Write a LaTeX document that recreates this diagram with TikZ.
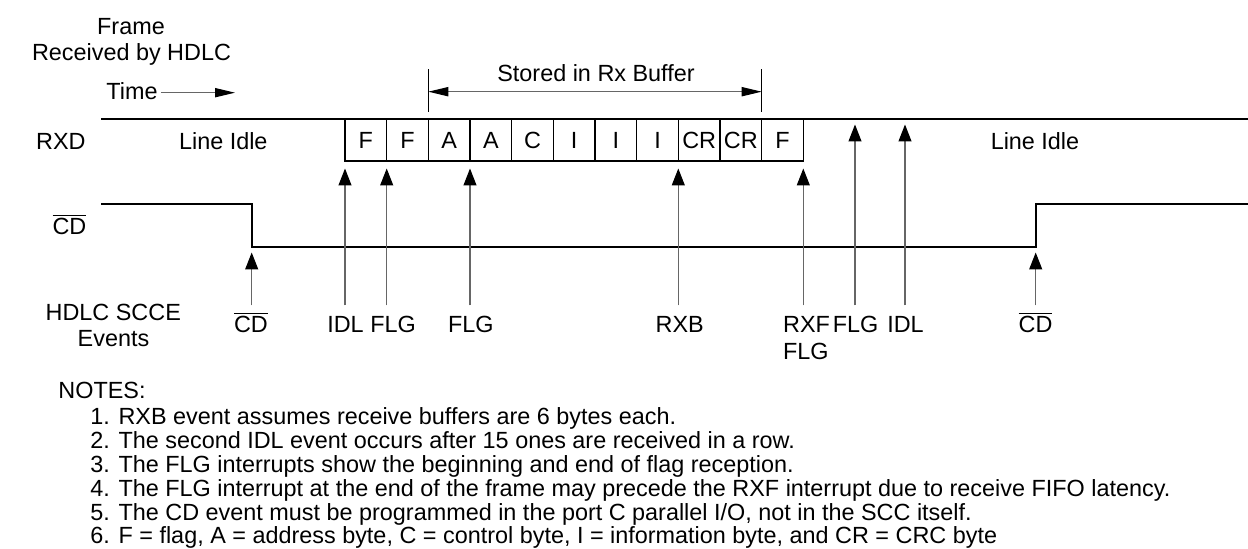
\documentclass[tikz,border=0pt]{standalone}
\usepackage{fontspec}
\setmainfont{Liberation Sans}
\usetikzlibrary{arrows.meta}
\newcommand\dgfont{\fontsize{11.7}{12}\selectfont}
\newcommand\cdbar{$\overline{\hbox{CD}}$}
\begin{document}
\begin{tikzpicture}[x=0.5pt,y=-0.5pt,
  txt/.style={inner sep=0pt,anchor=base,font=\dgfont},
  txtw/.style={txt,anchor=base west},
  txte/.style={txt,anchor=base east},
  cell/.style={draw=black,line width=0.75pt,minimum width=20.83pt,minimum height=20.85pt,inner sep=0pt,font=\dgfont,fill=white},
  sig/.style={line width=0.85pt,black},
  evarrow/.style={draw=black!60,line width=0.55pt,-{Triangle[length=8.5pt,width=6.5pt,color=black]}},
  harrow/.style={draw=black!60,line width=0.55pt,-{Triangle[length=10pt,width=4.6pt,color=black]}},
  tick/.style={draw=black,line width=0.55pt}]
\useasboundingbox (0,0) rectangle (1248,549);

% header
\node[txt] (frame) at (131,34.3) {Frame};
\node[txt] (recv) at (131.5,61) {Received by HDLC};
\node[txtw] (time) at (106,99.3) {Time};
\coordinate (timeend) at (235,92.7);
\draw[harrow] (time.east |- timeend) ++(3,0) coordinate (timestart) -- (timeend);

% stored in rx buffer
\coordinate (stl) at (428.3,91.7);
\coordinate (str) at (761.7,91.7);
\draw[tick] (428.3,69.3) coordinate (stlt) -- (428.3,111.7) coordinate (stlb);
\draw[tick] (761.7,69.3) coordinate (strt) -- (761.7,111.7) coordinate (strb);
\draw[harrow,{Triangle[length=10pt,width=4.6pt,color=black]}-{Triangle[length=10pt,width=4.6pt,color=black]}] (stl) -- (str);
\node[txt] (stored) at (596,81.7) {Stored in Rx Buffer};

% RXD line
\node[txte] (rxd) at (86,150) {RXD};
\coordinate (rxda) at (101,119.3);
\coordinate (rxdb) at (1248,119.3);
\draw[sig] (rxda) -- (rxdb);
\node[txt] (idle1) at (223.3,150) {Line Idle};
\node[txt] (idle2) at (1035,150) {Line Idle};

% cells
\foreach \lab [count=\i] in {F,F,A,A,C,I,I,I,CR,CR,F} {
  \node[cell] (c\i) at ({345+20.83+41.67*(\i-1)},140.2) {\lab};
}

% CD signal
\node[txte] (cdlab) at (86.7,235) {\cdbar};
\coordinate (cd0) at (101,204.3);
\coordinate (cd1) at (251.7,204.3);
\coordinate (cd2) at (251.7,246.7);
\coordinate (cd3) at (1035.7,246.7);
\coordinate (cd4) at (1035.7,204.3);
\coordinate (cd5) at (1248,204.3);
\draw[sig] (cd0) -- (cd1) -- (cd2) -- (cd3) -- (cd4) -- (cd5);

% events labels
\node[txt] (hdlc) at (113.3,320.7) {HDLC SCCE};
\node[txt] (events) at (113.5,346.7) {Events};

\node[txt] (e1) at (251,333) {\cdbar};
\node[txt] (e2) at (345.5,333) {IDL};
\node[txt] (e3) at (393,333) {FLG};
\node[txt] (e4) at (470.8,333) {FLG};
\node[txt] (e5) at (679.7,333) {RXB};
\node[txtw] (e6) at (782.7,333) {RXF};
\node[txtw] (e6b) at (782.7,360) {FLG};
\node[txt] (e7) at (855.5,333) {FLG};
\node[txt] (e8) at (905.5,333) {IDL};
\node[txt] (e9) at (1035.5,333) {\cdbar};

% event arrows
\foreach \name/\x/\tip in {a1/251.7/252.5, a2/345/168.5, a3/386.7/168.5, a4/470/168.5, a5/678.3/168.5, a6/803.3/168.5, a7/855/124.5, a8/905/124.5, a9/1035.7/252.5} {
  \coordinate (\name t) at (\x,305.5);
  \coordinate (\name h) at (\x,\tip);
  \draw[evarrow] (\name t) -- (\name h);
}

% notes
\node[txtw] (notes) at (58,399) {NOTES:};
\node[txtw] (n1) at (90,425) {1. RXB event assumes receive buffers are 6 bytes each.};
\node[txtw] (n2) at (90,448.8) {2. The second IDL event occurs after 15 ones are received in a row.};
\node[txtw] (n3) at (90,472.6) {3. The FLG interrupts show the beginning and end of flag reception.};
\node[txtw] (n4) at (90,496.4) {4. The FLG interrupt at the end of the frame may precede the RXF interrupt due to receive FIFO latency.};
\node[txtw] (n5) at (90,520.2) {5. The CD event must be programmed in the port C parallel I/O, not in the SCC itself.};
\node[txtw] (n6) at (90,544) {6. F = flag, A = address byte, C = control byte, I = information byte, and CR = CRC byte};
\end{tikzpicture}
\end{document}
